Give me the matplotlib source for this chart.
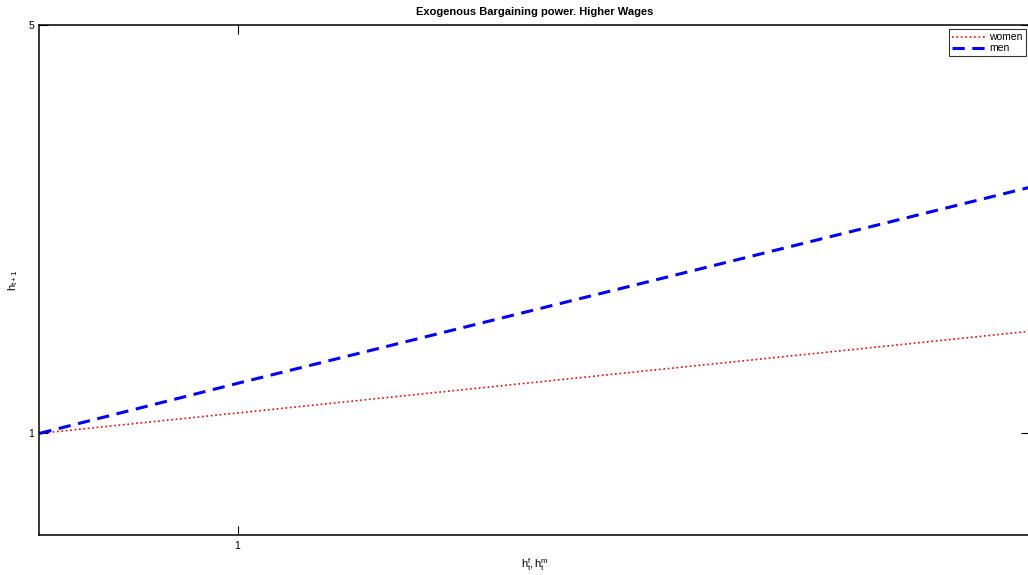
import matplotlib
matplotlib.use("Agg")
import matplotlib.pyplot as plt

plt.rcParams['font.family'] = ['Liberation Sans', 'DejaVu Sans']
plt.rcParams['mathtext.fontset'] = 'custom'
plt.rcParams['mathtext.rm'] = 'Liberation Sans'
plt.rcParams['mathtext.it'] = 'Liberation Sans'
plt.rcParams['mathtext.default'] = 'regular'

# values
x = [0, 1, 2, 3, 4, 5]
women = [1.0, 1.20, 1.40, 1.60, 1.80, 2.00]
men = [1.0, 1.49, 1.97, 2.45, 2.93, 3.41]

xticks = [1]
yticks = [1, 5]

fig = plt.figure(figsize=(10.28, 5.75), dpi=100)
ax = fig.add_axes([0.0384, 0.0687, 0.9635, 0.888])

ax.plot(x, women, linestyle=':', color='red', linewidth=1.2, label='women')
ax.plot(x, men, linestyle='--', color='blue', linewidth=2.2, dashes=(4, 2.5), label='men')

ax.set_xlim(0, 5)
ax.set_ylim(0, 5)
ax.set_xticks(xticks)
ax.set_yticks(yticks)
ax.set_xticklabels([str(t) for t in xticks])
ax.set_yticklabels([str(t) for t in yticks])
ax.tick_params(direction='in', length=6.5, width=0.8, labelsize=7.5,
               top=True, right=True, pad=4)
for s in ax.spines.values():
    s.set_linewidth(1.1)

ax.set_title('Exogenous Bargaining power. Higher Wages', fontsize=8,
             fontweight='bold', pad=7)
ax.set_xlabel(r'$h_t^f, h_t^m$', fontsize=8, labelpad=4)
ax.set_ylabel(r'$h_{t+1}$', fontsize=8, labelpad=6)

leg = ax.legend(loc='upper right', fontsize=7.5, frameon=True, fancybox=False,
                borderaxespad=0.4, handlelength=3.2, borderpad=0.3,
                labelspacing=0.1, handletextpad=0.4)
leg.get_frame().set_edgecolor('black')
leg.get_frame().set_linewidth(0.8)

fig.savefig('out.png', dpi=100)
